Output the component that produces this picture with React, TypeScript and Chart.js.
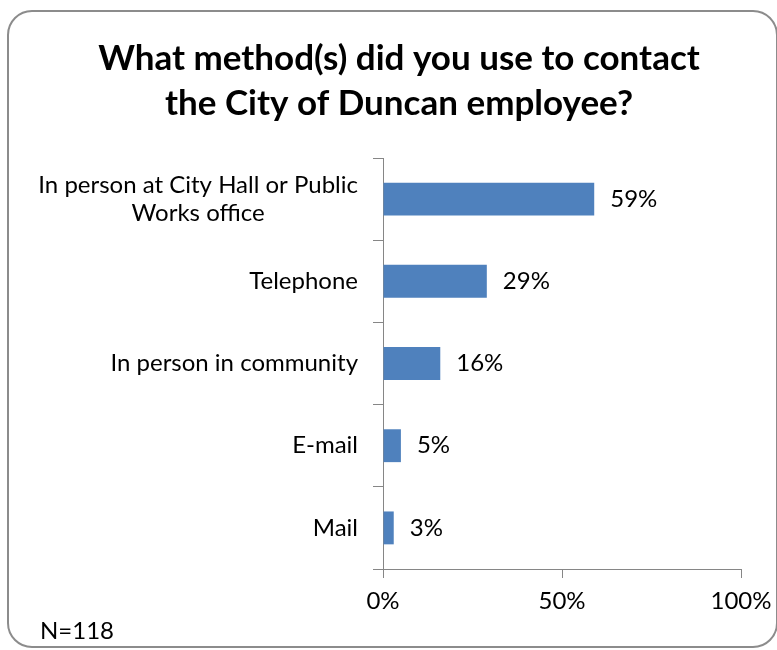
import React, { useEffect, useRef } from "react";
import { Chart, registerables } from "chart.js";

Chart.register(...registerables);

const categories: (string | string[])[] = [
  ["In person at City Hall or Public", "Works office"],
  "Telephone",
  "In person in community",
  "E-mail",
  "Mail",
];
const values = [59, 29, 16, 5, 3];
const xTickStep = 50;
const xMin = 0;
const xMax = 100;
const titleLines = ["What method(s) did you use to contact", "the City of Duncan employee?"];
const footnote = "N=118";

const FONT = "Lato, 'Open Sans', sans-serif";
const AXIS = "#868686";
const BAR = "#4F81BD";

const framePlugin = {
  id: "frame",
  beforeDraw(chart: any) {
    const ctx = chart.ctx;
    ctx.save();
    ctx.fillStyle = "#fff";
    ctx.fillRect(0, 0, chart.width, chart.height);
    ctx.strokeStyle = "#8c8c8c";
    ctx.lineWidth = 2;
    ctx.beginPath();
    ctx.roundRect(8, 11, 769, 636, 24);
    ctx.stroke();
    ctx.restore();
  },
};

const yLabelPlugin = {
  id: "yLabels",
  afterDraw(chart: any) {
    const ctx = chart.ctx;
    const ys = chart.scales.y;
    ctx.save();
    ctx.font = `24px ${FONT}`;
    ctx.fillStyle = "#000";
    ctx.textBaseline = "middle";
    ctx.textAlign = "center";
    const right = chart.chartArea.left - 25;
    categories.forEach((lab, i) => {
      const lines = Array.isArray(lab) ? lab : [lab];
      const y = ys.getPixelForValue(i);
      const w = Math.max(...lines.map((l) => ctx.measureText(l).width));
      const cx = right - w / 2;
      lines.forEach((l, j) => {
        ctx.fillText(l, cx, y + (j - (lines.length - 1) / 2) * 28);
      });
    });
    ctx.restore();
  },
};

const valueLabelPlugin = {
  id: "valueLabels",
  afterDatasetsDraw(chart: any) {
    const ctx = chart.ctx;
    const meta = chart.getDatasetMeta(0);
    ctx.save();
    ctx.font = `24px ${FONT}`;
    ctx.fillStyle = "#000";
    ctx.textBaseline = "middle";
    ctx.textAlign = "left";
    meta.data.forEach((bar: any, i: number) => {
      ctx.fillText(`${values[i]}%`, bar.x + 16, bar.y);
    });
    ctx.restore();
  },
};

const footnotePlugin = {
  id: "footnote",
  afterDraw(chart: any) {
    const ctx = chart.ctx;
    ctx.save();
    ctx.font = `24px ${FONT}`;
    ctx.fillStyle = "#000";
    ctx.textBaseline = "middle";
    ctx.textAlign = "left";
    ctx.fillText(footnote, 40, 631);
    ctx.restore();
  },
};

export default function App() {
  const ref = useRef<HTMLCanvasElement | null>(null);

  useEffect(() => {
    if (!ref.current) return;
    const chart = new Chart(ref.current, {
      type: "bar",
      data: {
        labels: categories as any,
        datasets: [
          {
            data: values,
            backgroundColor: BAR,
            borderWidth: 0,
            categoryPercentage: 1,
            barPercentage: 0.4,
          },
        ],
      },
      options: {
        indexAxis: "y",
        responsive: false,
        animation: false,
        layout: { padding: { left: 57, right: 36, top: 0, bottom: 0 } },
        plugins: {
          legend: { display: false },
          tooltip: { enabled: false },
          title: {
            display: true,
            text: titleLines,
            color: "#000",
            font: { family: FONT, size: 35, weight: "bold", lineHeight: 45 / 35 },
            padding: { top: 36, bottom: 32 },
          },
        },
        scales: {
          x: {
            min: xMin,
            max: xMax,
            ticks: {
              stepSize: xTickStep,
              callback: (v: any) => `${v}%`,
              color: "#000",
              font: { family: FONT, size: 24 },
              padding: 9,
              maxRotation: 0,
            },
            grid: { drawOnChartArea: false, tickLength: 9, color: AXIS },
            border: { color: AXIS },
            afterFit: (s: any) => {
              s.height = 81;
              s.paddingRight = 0;
              s.paddingLeft = 0;
            },
          },
          y: {
            ticks: { display: false },
            grid: { drawOnChartArea: false, tickLength: 10, color: AXIS, offset: true },
            border: { color: AXIS },
            afterFit: (s: any) => {
              s.width = 326;
            },
          },
        },
      },
      plugins: [framePlugin, yLabelPlugin, valueLabelPlugin, footnotePlugin],
    });
    return () => chart.destroy();
  }, []);

  return (
    <div style={{ position: "absolute", left: 0, top: 0, width: 777, height: 650 }}>
      <canvas ref={ref} width={777} height={650} style={{ display: "block" }} />
    </div>
  );
}
